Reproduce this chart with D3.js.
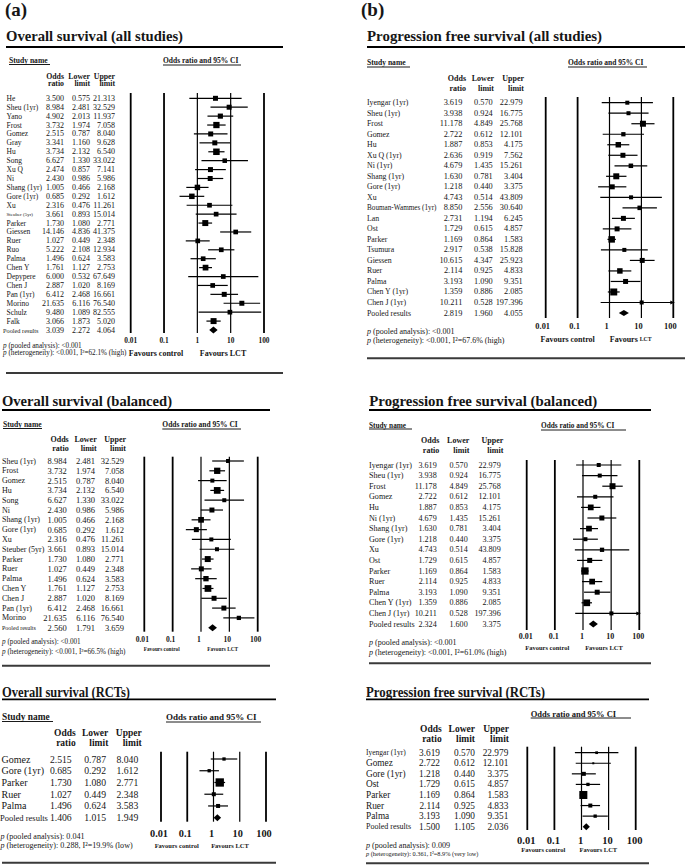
<!DOCTYPE html>
<html><head><meta charset="utf-8">
<script src="https://cdn.jsdelivr.net/npm/d3@7"></script>
<style>
body{margin:0;background:#fff}
svg{display:block}
text{font-family:"Liberation Serif","DejaVu Serif",serif;fill:#161616}
</style>
</head><body><svg id="c" width="685" height="865"></svg>
<script>
// ---------- shared axis ticks ----------
const tickValues = [0.01, 0.1, 1, 10, 100];
const tickLabels = ["0.01", "0.1", "1", "10", "100"];

// ---------- (a) Overall survival (all studies) ----------
const osAllStudies = ["He","Sheu (1yr)","Yano","Frost","Gomez","Gray","Hu","Song","Xu Q","Ni","Shang (1yr)","Gore (1yr)","Xu","Steuber (5yr)","Parker","Giessen","Ruer","Ruo","Palma","Chen Y","Depypere","Chen J","Pan (1yr)","Morino","Schulz","Falk","Pooled results"];
const osAllOR    = [3.500,8.984,4.902,3.732,2.515,3.341,3.734,6.627,2.474,2.430,1.005,0.685,2.316,3.661,1.730,14.146,1.027,5.222,1.496,1.761,6.000,2.887,6.412,21.635,9.480,3.066,3.039];
const osAllLower = [0.575,2.481,2.013,1.974,0.787,1.160,2.132,1.330,0.857,0.986,0.466,0.292,0.476,0.893,1.080,4.836,0.449,2.108,0.624,1.127,0.532,1.020,2.468,6.116,1.089,1.873,2.272];
const osAllUpper = [21.313,32.529,11.937,7.058,8.040,9.628,6.540,33.022,7.141,5.986,2.168,1.612,11.261,15.014,2.771,41.375,2.348,12.934,3.583,2.753,67.649,8.169,16.661,76.540,82.555,5.020,4.064];
const osAllWeight = [3.4,3.4,3.6,5.4,3.4,3.4,5.8,2.8,3.4,3.4,4.1,4.1,3.0,3.0,4.9,3.0,3.0,3.0,3.0,4.5,3.0,3.0,3.4,3.4,3.0,4.9];

// ---------- (b) Progression free survival (all studies) ----------
const pfsAllStudies = ["Iyengar (1yr)","Sheu (1yr)","Frost","Gomez","Hu","Xu Q (1yr)","Ni (1yr)","Shang (1yr)","Gore (1yr)","Xu","Bouman-Wammes (1yr)","Lan","Ost","Parker","Tsumura","Giessen","Ruer","Palma","Chen Y (1yr)","Chen J (1yr)","Pooled results"];
const pfsAllOR    = [3.619,3.938,11.178,2.722,1.887,2.636,4.679,1.630,1.218,4.743,8.850,2.731,1.729,1.169,2.917,10.615,2.114,3.193,1.359,10.211,2.819];
const pfsAllLower = [0.570,0.924,4.849,0.612,0.853,0.919,1.435,0.781,0.440,0.514,2.556,1.194,0.615,0.864,0.538,4.347,0.925,1.090,0.886,0.528,1.960];
const pfsAllUpper = [22.979,16.775,25.768,12.101,4.175,7.562,15.261,3.404,3.375,43.809,30.640,6.245,4.857,1.583,15.828,25.923,4.833,9.351,2.085,197.396,4.055];
const pfsAllWeight = [2.2,2.2,4.9,2.5,4.1,3.4,2.8,4.9,3.4,2.2,2.8,3.4,3.4,5.8,2.2,3.4,4.1,3.4,6.7,2.2];

// ---------- Overall survival (balanced) ----------
const osBalStudies = ["Sheu (1yr)","Frost","Gomez","Hu","Song","Ni","Shang (1yr)","Gore (1yr)","Xu","Steuber (5yr)","Parker","Ruer","Palma","Chen Y","Chen J","Pan (1yr)","Morino","Pooled results"];
const osBalOR    = [8.984,3.732,2.515,3.734,6.627,2.430,1.005,0.685,2.316,3.661,1.730,1.027,1.496,1.761,2.887,6.412,21.635,2.560];
const osBalLower = [2.481,1.974,0.787,2.132,1.330,0.986,0.466,0.292,0.476,0.893,1.080,0.449,0.624,1.127,1.020,2.468,6.116,1.791];
const osBalUpper = [32.529,7.058,8.040,6.540,33.022,5.986,2.168,1.612,11.261,15.014,2.771,2.348,3.583,2.753,8.169,16.661,76.540,3.659];
const osBalWeight = [2.2,5.4,2.2,6.2,2.2,3.4,4.5,3.4,2.2,2.2,4.9,3.4,3.9,6.2,3.4,3.4,2.5];

// ---------- Progression free survival (balanced) ----------
const pfsBalStudies = ["Iyengar (1yr)","Sheu (1yr)","Frost","Gomez","Hu","Ni (1yr)","Shang (1yr)","Gore (1yr)","Xu","Ost","Parker","Ruer","Palma","Chen Y (1yr)","Chen J (1yr)","Pooled results"];
const pfsBalOR    = [3.619,3.938,11.178,2.722,1.887,4.679,1.630,1.218,4.743,1.729,1.169,2.114,3.193,1.359,10.211,2.324];
const pfsBalLower = [0.570,0.924,4.849,0.612,0.853,1.435,0.781,0.440,0.514,0.615,0.864,0.925,1.090,0.886,0.528,1.600];
const pfsBalUpper = [22.979,16.775,25.768,12.101,4.175,15.261,3.404,3.375,43.809,4.857,1.583,4.833,9.351,2.085,197.396,3.375];
const pfsBalWeight = [2.2,2.2,4.9,2.2,4.5,3.4,4.5,2.2,2.5,3.4,7.3,4.5,3.4,6.2,2.2];

// ---------- Overall survival (RCTs) ----------
const osRctStudies = ["Gomez","Gore (1yr)","Parker","Ruer","Palma","Pooled results"];
const osRctOR    = [2.515,0.685,1.730,1.027,1.496,1.406];
const osRctLower = [0.787,0.292,1.080,0.449,0.624,1.015];
const osRctUpper = [8.040,1.612,2.771,2.348,3.583,1.949];
const osRctWeight = [1.5,1.5,9.5,2.2,2.2];

// ---------- Progression free survival (RCTs) ----------
const pfsRctStudies = ["Iyengar (1yr)","Gomez","Gore (1yr)","Ost","Parker","Ruer","Palma","Pooled results"];
const pfsRctOR    = [3.619,2.722,1.218,1.729,1.169,2.114,3.193,1.500];
const pfsRctLower = [0.570,0.612,0.440,0.615,0.864,0.925,1.090,1.105];
const pfsRctUpper = [22.979,12.101,3.375,4.857,1.583,4.833,9.351,2.036];
const pfsRctWeight = [1.0,0.55,2.2,1.5,8.8,2.2,1.5];

// ---------- texts ----------
const panelTitles = ["Overall survival (all studies)","Progression free survival (all studies)","Overall survival (balanced)","Progression free survival (balanced)","Overall survival (RCTs)","Progression free survival (RCTs)"];
const pooledTexts = ["(pooled analysis): <0.001","(pooled analysis): <0.001","(pooled analysis): <0.001","(pooled analysis): <0.001","(pooled analysis): 0.041","(pooled analysis): 0.009"];
const hetTexts = ["(heterogeneity): <0.001, I\u00B2=62.1% (high)","(heterogeneity): <0.001, I\u00B2=67.6% (high)","(heterogeneity): <0.001, I\u00B2=66.5% (high)","(heterogeneity): <0.001, I\u00B2=61.0% (high)","(heterogeneity): 0.288, I\u00B2=19.9% (low)","(heterogeneity): 0.361, I\u00B2=8.9% (very low)"];
const colHeads = [["Odds","ratio"],["Lower","limit"],["Upper","limit"]];

const svg = d3.select("#c");
const boxSide = d3.scaleSqrt().domain([0, 1]).range([0, 2.7]);

svg.append("text").attr("x",5).attr("y",9).attr("font-size",19).attr("font-weight","bold").attr("dominant-baseline","central").text("(a)");
svg.append("text").attr("x",361).attr("y",9).attr("font-size",19).attr("font-weight","bold").attr("dominant-baseline","central").text("(b)");

function txt(g, x, y, s, size, opts={}) {
  const t = g.append("text").attr("x",x).attr("y",y).attr("font-size",size).attr("dominant-baseline","central").text(s);
  if (opts.bold) t.attr("font-weight","bold");
  if (opts.anchor) t.attr("text-anchor",opts.anchor);
  return t;
}
function hline(g, x1, x2, y, w, col="#000") {
  g.append("line").attr("x1",x1).attr("x2",x2).attr("y1",y).attr("y2",y).attr("stroke",col).attr("stroke-width",w);
}

function drawPanel(L, D) {
  const g = svg.append("g");
  // title
  txt(g, L.titleX, L.titleY, D.title, L.titleSize, {bold:true})
    .attr("textLength", L.titleW).attr("lengthAdjust","spacingAndGlyphs");
  hline(g, L.ulX1, L.ulX2, L.ulY, 1.8);
  if (L.study) {
    txt(g, L.study.x, L.study.y, "Study name", L.study.size, {bold:true});
    hline(g, L.study.x, L.study.ulX2, L.study.ulY, 0.9);
  }
  txt(g, L.ci.x, L.ci.y, "Odds ratio and 95% CI", L.ci.size, {bold:true});
  hline(g, L.ci.x, L.ci.ulX2, L.ci.ulY, 0.9);
  colHeads.forEach((h, k) => {
    txt(g, L.head.cols[k], L.head.y1, h[0], L.head.size, {bold:true, anchor:"end"});
    txt(g, L.head.cols[k], L.head.y2, h[1], L.head.size, {bold:true, anchor:"end"});
  });

  const x = d3.scaleLog().domain([0.01, 100]).range([L.plot.x0, L.plot.x1]);
  const n = D.names.length;
  const y = d3.scalePoint().domain(d3.range(n)).range([L.rows.y0, L.rows.y1]);

  // reference lines
  tickValues.forEach(v => {
    const thick = (v === 1 || v === 10) ? 1.2 : 1.8;
    g.append("line").attr("x1",x(v)).attr("x2",x(v)).attr("y1",L.plot.top).attr("y2",L.plot.bot)
      .attr("stroke","#000").attr("stroke-width",thick);
  });
  tickValues.forEach((v,k) => {
    txt(g, x(v) + L.plot.tickDx, L.plot.tickY, tickLabels[k], L.plot.tickSize, {bold:true, anchor:"middle"});
  });

  // rows
  D.names.forEach((nm, i) => {
    const ns = (L.nameSizes && L.nameSizes[nm]) || L.rows.nameSize;
    const nx = (L.nameX && L.nameX[nm] !== undefined) ? L.nameX[nm] : L.rows.nameX;
    txt(g, nx, y(i), nm, ns).attr("fill","#2a2a2a");
    [D.or[i], D.lo[i], D.hi[i]].forEach((v, k) => {
      txt(g, L.rows.cols[k], y(i), v.toFixed(3), L.rows.valSize, {anchor:"end"}).attr("fill","#2a2a2a");
    });
    const yy = y(i);
    if (i === n - 1) {
      const h = L.dh;
      g.append("polygon")
        .attr("points", [[x(D.lo[i]),yy],[x(D.or[i]),yy-h],[x(D.hi[i]),yy],[x(D.or[i]),yy+h]].map(p=>p.join(",")).join(" "))
        .attr("fill","#000");
    } else {
      const over = D.hi[i] > 100;
      const xe = over ? x(100) + 1 : x(D.hi[i]);
      g.append("line").attr("x1",x(Math.max(D.lo[i],0.01))).attr("x2",xe).attr("y1",yy).attr("y2",yy)
        .attr("stroke","#000").attr("stroke-width",L.ciW);
      if (over) {
        g.append("polygon").attr("points", `${xe},${yy} ${xe-4},${yy-2} ${xe-4},${yy+2}`).attr("fill","#000");
      }
      const s = boxSide(D.w[i]);
      g.append("rect").attr("x",x(D.or[i]) - s/2).attr("y",yy - s/2).attr("width",s).attr("height",s).attr("fill","#000");
    }
  });

  // favours
  txt(g, L.fav.cx1, L.fav.y, "Favours control", L.fav.size, {bold:true, anchor:"middle"});
  const f2 = txt(g, L.fav.cx2, L.fav.y, "", L.fav.size, {bold:true, anchor:"middle"});
  if (L.fav.smallCaps) {
    f2.append("tspan").text("Favours ");
    f2.append("tspan").attr("font-size", L.fav.size*0.72).text("LCT");
  } else f2.text("Favours LCT");

  // p values
  const p1 = txt(g, L.p.x, L.p.y1, "", L.p.size1);
  p1.append("tspan").attr("font-style","italic").text("p ");
  p1.append("tspan").text(D.pooled);
  const p2 = txt(g, L.p.x, L.p.y2, "", L.p.size2);
  p2.append("tspan").attr("font-style","italic").text("p ");
  p2.append("tspan").text(D.het);

  hline(g, L.bottom.x1, L.bottom.x2, L.bottom.y, 2, "#3a3a3a");
}

const layouts = [
 {titleX:6, titleY:36, titleSize:15, titleW:177, ulX1:6, ulX2:283, ulY:47,
  study:{x:9,y:60,size:7.6,ulX2:50,ulY:64.5}, ci:{x:163,y:60,size:7.5,ulX2:241,ulY:65},
  head:{y1:76,y2:83.5,size:7.8,cols:[64,90,115]},
  rows:{y0:98.3,y1:330,nameX:6.5,nameSize:7.5,valSize:8,cols:[64,90,115]},
  nameSizes:{"Steuber (5yr)":5,"Pooled results":6.3}, nameX:{"Pooled results":3},
  plot:{x0:130.7,x1:264,top:93,bot:333,tickY:340,tickSize:7.4,tickDx:0},
  fav:{y:353,size:8,cx1:156,cx2:223}, p:{x:3,y1:346,y2:353,size1:7.2,size2:7.2},
  bottom:{y:373,x1:6,x2:283}, dh:3.5, ciW:1.2},
 {titleX:367, titleY:35.5, titleSize:15, titleW:235, ulX1:367, ulX2:685, ulY:47,
  study:{x:367,y:62,size:7.6,ulX2:410,ulY:67}, ci:{x:568,y:62,size:7.5,ulX2:647,ulY:67},
  head:{y1:78,y2:88,size:8,cols:[466,494,524]},
  rows:{y0:102.7,y1:313,nameX:367,nameSize:7.8,valSize:8.3,cols:[462.3,492.7,522.7]},
  nameSizes:{"Bouman-Wammes (1yr)":7.2},
  plot:{x0:545.7,x1:673.3,top:97,bot:318,tickY:326,tickSize:8.4,tickDx:-3},
  fav:{y:339.3,size:8,cx1:567.7,cx2:630.7,smallCaps:true}, p:{x:367,y1:330.7,y2:340,size1:8,size2:8},
  bottom:{y:358.3,x1:367,x2:685}, dh:3, ciW:1.2},
 {titleX:2, titleY:401, titleSize:15, titleW:170, ulX1:2, ulX2:270, ulY:410,
  study:{x:3,y:424.3,size:7.6,ulX2:42,ulY:428.5}, ci:{x:162.3,y:424.3,size:7.5,ulX2:241,ulY:429},
  head:{y1:439.3,y2:448.3,size:8,cols:[68.7,96.7,126]},
  rows:{y0:461,y1:627.7,nameX:2,nameSize:8,valSize:8.5,cols:[66.7,95,124]},
  nameSizes:{"Pooled results":6},
  plot:{x0:144.3,x1:257.7,top:456.7,bot:631.7,tickY:639,tickSize:7.6,tickDx:-2},
  fav:{y:649.3,size:5.3,cx1:161.7,cx2:222.7}, p:{x:2,y1:642.3,y2:651.7,size1:7.2,size2:7.2},
  bottom:{y:665.7,x1:2,x2:270}, dh:3.5, ciW:1.2},
 {titleX:369.3, titleY:401, titleSize:15, titleW:228, ulX1:369, ulX2:651, ulY:410,
  study:{x:369,y:425,size:7.3,ulX2:412,ulY:429}, ci:{x:541,y:425,size:7.3,ulX2:626,ulY:430},
  head:{y1:440.7,y2:450,size:8,cols:[439.3,469.3,503.3]},
  rows:{y0:465,y1:624,nameX:369,nameSize:8.1,valSize:8.1,cols:[436.7,467.7,500.7]},
  plot:{x0:526.7,x1:639.3,top:460,bot:630,tickY:636.7,tickSize:8,tickDx:-1},
  fav:{y:647.7,size:6.5,cx1:547.3,cx2:604}, p:{x:369,y1:642.3,y2:651.7,size1:8,size2:8},
  bottom:{y:663.3,x1:369,x2:651}, dh:3.5, ciW:1.2},
 {titleX:2, titleY:692.8, titleSize:14, titleW:128, ulX1:2, ulX2:276, ulY:699.3,
  study:{x:2,y:717.3,size:9.4,ulX2:53,ulY:721.5}, ci:{x:166,y:717.3,size:9,ulX2:261,ulY:722},
  head:{y1:733.3,y2:742.7,size:9.5,cols:[75.7,108.3,141.7]},
  rows:{y0:759,y1:817.7,nameX:1.5,nameSize:10,valSize:9.7,cols:[71.7,106,138.3]},
  nameSizes:{"Pooled results":8.5}, nameX:{"Pooled results":0},
  plot:{x0:161,x1:266,top:751.7,bot:821.7,tickY:833.3,tickSize:10.3,tickDx:-2},
  fav:{y:845,size:6.5,cx1:176.7,cx2:230}, p:{x:0.5,y1:836,y2:845,size1:8.1,size2:8.1},
  bottom:{y:862.7,x1:2,x2:276}, dh:3.5, ciW:1.2},
 {titleX:366, titleY:692.8, titleSize:14, titleW:179, ulX1:366, ulX2:649, ulY:699.3,
  study:null, ci:{x:530.7,y:714,size:8.5,ulX2:631,ulY:718},
  head:{y1:729.3,y2:738.7,size:9.5,cols:[441.7,475,509]},
  rows:{y0:752.7,y1:826.7,nameX:366,nameSize:9.3,valSize:9.3,cols:[440,475,508.3]},
  nameSizes:{"Iyengar (1yr)":7.5,"Pooled results":8},
  plot:{x0:527.3,x1:635.7,top:746.7,bot:830,tickY:840,tickSize:10.5,tickDx:-1},
  fav:{y:849.3,size:6.5,cx1:543.3,cx2:598.3}, p:{x:366,y1:845,y2:853.3,size1:8.1,size2:6.3},
  bottom:{y:863.3,x1:366,x2:649}, dh:3.5, ciW:1.2}
];

const datasets = [
 {names:osAllStudies, or:osAllOR, lo:osAllLower, hi:osAllUpper, w:osAllWeight},
 {names:pfsAllStudies, or:pfsAllOR, lo:pfsAllLower, hi:pfsAllUpper, w:pfsAllWeight},
 {names:osBalStudies, or:osBalOR, lo:osBalLower, hi:osBalUpper, w:osBalWeight},
 {names:pfsBalStudies, or:pfsBalOR, lo:pfsBalLower, hi:pfsBalUpper, w:pfsBalWeight},
 {names:osRctStudies, or:osRctOR, lo:osRctLower, hi:osRctUpper, w:osRctWeight},
 {names:pfsRctStudies, or:pfsRctOR, lo:pfsRctLower, hi:pfsRctUpper, w:pfsRctWeight}
];

datasets.forEach((d, k) => {
  drawPanel(layouts[k], Object.assign({title:panelTitles[k], pooled:pooledTexts[k], het:hetTexts[k]}, d));
});
</script>
</body></html>
